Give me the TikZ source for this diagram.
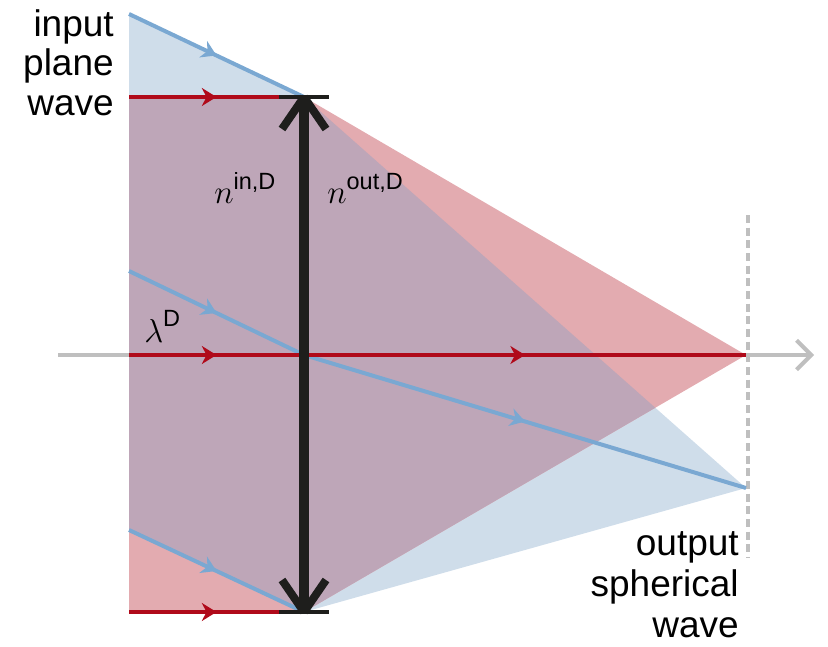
\documentclass[tikz,border=0pt]{standalone}
\usepackage{fontspec}
\setmainfont{Liberation Sans}
\usetikzlibrary{arrows.meta,decorations.markings}
\definecolor{rayred}{HTML}{B00A1A}
\definecolor{rayblue}{HTML}{7AA8D2}
\definecolor{bluefill}{HTML}{CFDDEA}
\definecolor{redfill}{HTML}{E3ABB0}
\definecolor{purpfill}{HTML}{BEA6B8}
\definecolor{lensblack}{HTML}{1E1E1C}
\definecolor{axisgray}{HTML}{BFBFBF}
\tikzset{
  midarrow/.style={postaction={decorate}, decoration={markings,
      mark=at position 0.5 with {\arrow{Stealth[length=11pt,width=13.5pt,inset=3.5pt]}}}},
  redray/.style={draw=rayred, line width=3pt, midarrow, color=rayred},
  blueray/.style={draw=rayblue, line width=3pt, midarrow, color=rayblue},
  lensline/.style={draw=lensblack, line width=7.5pt},
  lensbar/.style={draw=lensblack, line width=3.2pt},
  lensarm/.style={draw=lensblack, line width=6pt},
  axisline/.style={draw=axisgray, line width=3pt},
  focline/.style={draw=axisgray, line width=3pt, dash pattern=on 6pt off 3.5pt},
  bigtext/.style={inner sep=0pt, align=right, anchor=base east},
  mathlabel/.style={inner sep=0pt, anchor=base west, font=\fontsize{30}{30}\selectfont},
}
\newcommand{\suptxt}[2]{\raisebox{#1}{\fontsize{17.6}{18}\selectfont #2}}
\begin{document}
\begin{tikzpicture}[x=0.75pt,y=-0.75pt]
\useasboundingbox (0,0) rectangle (828,646);
% key points
\coordinate (Bt) at (129,14);
\coordinate (Rt) at (129,97);
\coordinate (Lt) at (304,97);
\coordinate (Lb) at (304,612);
\coordinate (Rb) at (129,612);
\coordinate (Bb) at (129,530);
\coordinate (Bm) at (129,271);
\coordinate (Rm) at (129,355);
\coordinate (O) at (304,355);
\coordinate (F) at (746,355);
\coordinate (Fb) at (746,488);
\coordinate (X) at (intersection of Lb--F and Lt--Fb);
\coordinate (A0) at (58,355);
\coordinate (A1) at (814,355);
\coordinate (D0) at (748,215);
\coordinate (D1) at (748,558);
% axis
\draw[axisline, -{Straight Barb[length=11pt,width=22pt,line width=3pt]}] (A0) -- (A1);
% blue beam
\fill[bluefill] (Bt) -- (Lt) -- (Lb) -- (Bb) -- cycle;
\fill[bluefill] (Lt) -- (Fb) -- (Lb) -- cycle;
% red beam
\fill[redfill] (Rt) -- (Lt) -- (Lb) -- (Rb) -- cycle;
\fill[redfill] (Lt) -- (F) -- (Lb) -- cycle;
% overlap
\fill[purpfill] (Rt) -- (Lt) -- (Lb) -- (Bb) -- cycle;
\fill[purpfill] (Lt) -- (X) -- (Lb) -- cycle;
% focal plane
\draw[focline] (D0) -- (D1);
% rays
\draw[blueray] (Bt) -- (Lt);
\draw[blueray] (Bm) -- (O);
\draw[blueray] (Bb) -- (Lb);
\draw[blueray] (O) -- (Fb);
\draw[redray] (Rt) -- (Lt);
\draw[redray] (Rm) -- (O);
\draw[redray] (Rb) -- (Lb);
\draw[redray] (O) -- (F);
% lens
\draw[lensline] (Lb) -- (Lt);
\draw[lensarm] (Lt) -- ++(-22,32);
\draw[lensarm] (Lt) -- ++(22,32);
\draw[lensarm] (Lb) -- ++(-22,-32);
\draw[lensarm] (Lb) -- ++(22,-32);
\draw[lensbar] (279,97) -- (329,97);
\draw[lensbar] (279,612) -- (329,612);
% labels
\node[bigtext, font=\fontsize{27.75}{29.6}\selectfont] (inlabel) at (114,115) {input\\plane\\wave};
\node[bigtext, font=\fontsize{27.75}{30.6}\selectfont] (outlabel) at (739,637) {output\\spherical\\wave};
\node[mathlabel] (nin) at (214,203) {$n$\suptxt{10pt}{in,D}};
\node[mathlabel] (nout) at (327,203) {$n$\suptxt{10pt}{out,D}};
\node[mathlabel] (lam) at (144,342) {$\lambda$\suptxt{12pt}{D}};
\end{tikzpicture}
\end{document}
